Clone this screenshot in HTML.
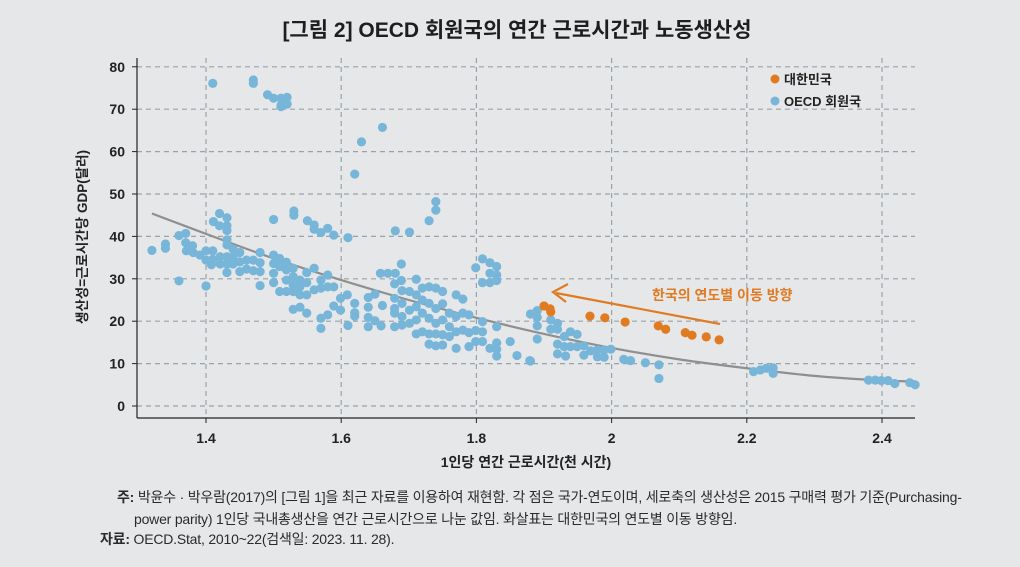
<!DOCTYPE html>
<html><head><meta charset="utf-8">
<style>
body{margin:0;background:#e6e7e9;width:1020px;height:567px;overflow:hidden;font-family:"Liberation Sans","Noto Sans CJK KR",sans-serif;}
svg{display:block}
.note{position:absolute;font-size:14px;color:#2a2a2a;letter-spacing:-0.2px;white-space:nowrap}
</style></head><body>
<svg id="chart" width="1020" height="567" xmlns="http://www.w3.org/2000/svg" font-family="Liberation Sans, Noto Sans CJK KR, sans-serif">
<rect width="1020" height="567" fill="#e6e7e9"/>
<text x="517" y="37" text-anchor="middle" font-size="21" font-weight="bold" fill="#1e1e1e">[그림 2] OECD 회원국의 연간 근로시간과 노동생산성</text>
<g id="grid"></g>
<g id="axes"></g>
<path id="trend" fill="none" stroke="#8f8f8f" stroke-width="2.2"/>
<g id="pts"></g>
<text x="87" y="237" transform="rotate(-90 87 237)" text-anchor="middle" font-size="13.5" font-weight="bold" fill="#222">생산성=근로시간당 GDP(달러)</text>
<text x="526" y="467" text-anchor="middle" font-size="14" font-weight="bold" fill="#222">1인당 연간 근로시간(천 시간)</text>
<g>
<circle cx="775" cy="79" r="4.5" fill="#e07b22"/>
<text x="784" y="84" font-size="13" font-weight="bold" fill="#222">대한민국</text>
<circle cx="775" cy="101" r="4.5" fill="#77b6d8"/>
<text x="784" y="106" font-size="13" font-weight="bold" fill="#222">OECD 회원국</text>
</g>
<g>
<line x1="720" y1="324" x2="556" y2="293" stroke="#e07b22" stroke-width="2.2"/>
<polyline points="568,284 553,292 566,302" fill="none" stroke="#e07b22" stroke-width="2.2"/>
<text x="652" y="300" font-size="14" font-weight="bold" fill="#e07b22">한국의 연도별 이동 방향</text>
</g>
</svg>
<div class="note" style="left:117px;top:487px"><b>주:</b> 박윤수 · 박우람(2017)의 [그림 1]을 최근 자료를 이용하여 재현함. 각 점은 국가-연도이며, 세로축의 생산성은 2015 구매력 평가 기준(Purchasing-</div>
<div class="note" style="left:134px;top:509px">power parity) 1인당 국내총생산을 연간 근로시간으로 나눈 값임. 화살표는 대한민국의 연도별 이동 방향임.</div>
<div class="note" style="left:100px;top:529px"><b>자료:</b> OECD.Stat, 2010~22(검색일: 2023. 11. 28).</div>
<script>
const xTicks=[1.4,1.6,1.8,2.0,2.2,2.4];
const xTickLabels=["1.4","1.6","1.8","2","2.2","2.4"];
const yTicks=[0,10,20,30,40,50,60,70,80];
const koreaX=[1.900,1.909,1.910,1.968,1.990,2.020,2.069,2.080,2.109,2.119,2.140,2.159];
const koreaY=[23.6,22.9,22.2,21.2,20.8,19.8,18.9,18.1,17.3,16.7,16.3,15.6];
const oecdX=[1.320,1.340,1.340,1.360,1.370,1.360,1.370,1.371,1.380,1.381,1.391,1.400,1.400,1.400,1.410,1.410,1.410,1.408,1.411,1.420,1.420,1.431,1.431,1.431,1.431,1.431,1.421,1.421,1.431,1.431,1.431,1.440,1.440,1.440,1.450,1.450,1.450,1.460,1.460,1.470,1.470,1.480,1.480,1.480,1.480,1.470,1.470,1.491,1.500,1.511,1.520,1.511,1.520,1.511,1.500,1.530,1.530,1.500,1.500,1.500,1.500,1.509,1.509,1.509,1.519,1.519,1.519,1.519,1.529,1.529,1.529,1.529,1.529,1.539,1.539,1.539,1.539,1.549,1.549,1.549,1.549,1.550,1.560,1.560,1.570,1.580,1.589,1.610,1.560,1.560,1.570,1.570,1.570,1.570,1.580,1.580,1.580,1.589,1.589,1.599,1.599,1.609,1.610,1.620,1.630,1.661,1.620,1.620,1.620,1.640,1.640,1.640,1.640,1.650,1.650,1.659,1.661,1.658,1.669,1.680,1.689,1.679,1.689,1.680,1.701,1.679,1.679,1.679,1.679,1.690,1.690,1.690,1.690,1.701,1.701,1.701,1.711,1.711,1.711,1.711,1.711,1.720,1.720,1.720,1.720,1.730,1.730,1.730,1.730,1.730,1.740,1.740,1.740,1.740,1.740,1.750,1.750,1.750,1.750,1.750,1.730,1.740,1.740,1.760,1.760,1.760,1.770,1.770,1.770,1.770,1.780,1.780,1.780,1.789,1.789,1.789,1.799,1.799,1.809,1.809,1.809,1.799,1.809,1.809,1.820,1.820,1.820,1.830,1.830,1.830,1.820,1.830,1.830,1.830,1.830,1.850,1.860,1.880,1.880,1.890,1.890,1.890,1.890,1.910,1.910,1.920,1.920,1.920,1.920,1.930,1.930,1.932,1.939,1.939,1.949,1.949,1.959,1.959,1.969,1.979,1.979,1.989,1.989,1.999,2.018,2.028,2.050,2.070,2.070,1.879,2.210,2.220,2.229,2.239,2.239,2.380,2.390,2.399,2.409,2.419,2.441,2.449];
const oecdY=[36.7,38.2,37.2,40.2,40.7,29.5,38.5,36.6,37.8,36.2,35.6,36.6,34.4,28.3,76.1,36.6,34.6,33.3,43.5,45.4,42.5,44.4,42.5,41.4,39.2,38.0,35.2,33.5,35.2,33.5,31.5,37.0,35.2,33.5,36.2,34.0,31.7,34.4,32.3,34.4,31.9,36.2,33.8,31.7,28.4,76.9,76.1,73.4,72.6,72.6,72.8,71.0,71.2,70.6,44.0,46.0,45.0,35.6,33.6,31.3,29.1,34.8,32.9,27.0,33.9,32.1,29.7,27.0,32.5,30.5,28.5,27.0,22.8,29.7,28.1,26.2,23.3,29.1,26.2,21.9,31.5,43.7,42.7,41.7,40.9,41.9,40.3,39.7,32.5,27.4,29.7,27.8,20.7,18.3,30.9,28.1,21.5,28.1,23.6,25.4,22.6,26.2,19.0,54.7,62.3,65.7,24.2,22.0,21.2,25.6,23.3,20.9,18.7,26.4,20.1,18.9,23.7,31.3,31.3,31.3,33.5,28.8,29.6,41.3,41.0,25.4,23.0,21.9,18.7,27.2,24.2,21.1,19.1,27.0,22.6,19.5,29.9,26.2,23.4,20.3,17.0,27.8,25.0,21.9,17.5,28.1,24.2,20.7,17.0,14.6,27.8,23.0,19.5,17.0,14.2,27.0,24.1,20.3,16.8,14.4,43.7,48.2,46.2,21.9,18.7,16.4,26.2,21.1,17.5,13.6,25.2,21.9,17.9,21.5,17.3,14.0,17.8,15.2,19.9,17.5,15.2,32.6,34.7,29.1,33.8,31.3,29.1,32.9,30.9,29.6,13.6,14.9,13.4,11.8,18.7,15.2,11.9,10.6,21.7,22.5,20.9,18.9,15.8,20.3,18.1,19.5,18.1,14.6,12.3,16.4,14.0,11.8,17.5,14.0,16.9,14.0,14.2,12.0,13.0,13.2,11.6,13.2,11.5,13.4,11.0,10.7,10.2,9.7,6.5,10.7,8.1,8.5,8.9,9.0,7.7,6.1,6.1,6.0,6.0,5.3,5.5,5.0];
const trendX=[1.32,1.4,1.5,1.6,1.7,1.8,1.9,2.0,2.1,2.2,2.3,2.4,2.45];
const trendY=[45.4,40.6,34.8,29.7,25.0,20.8,17.0,13.7,11.0,8.9,7.1,6.0,5.8];

const L=137,R=915,T=58,B=418;
const X=v=>206+(v-1.4)*676;
const Y=v=>406-v*4.24;
const NS="http://www.w3.org/2000/svg";
function mk(tag,attrs,parent){const e=document.createElementNS(NS,tag);for(const k in attrs)e.setAttribute(k,attrs[k]);parent.appendChild(e);return e;}
const grid=document.getElementById('grid'),axes=document.getElementById('axes'),pts=document.getElementById('pts');
yTicks.forEach(t=>{
 const g=mk('line',{x1:L,x2:R,y1:Y(t),y2:Y(t),stroke:'#99a2aa','stroke-width':1.2,'stroke-dasharray':'5,4'},grid);
 
 
 const tk=mk('line',{x1:L-5,x2:L,y1:Y(t),y2:Y(t),stroke:'#222','stroke-width':1},axes);
 
 
 const tx=mk('text',{x:L-12,y:Y(t)+5,'text-anchor':'end','font-size':14,'font-weight':'bold',fill:'#222'},axes);
 tx.textContent=t;
 
 
});
xTicks.forEach((t,i)=>{
 const g=mk('line',{x1:X(t),x2:X(t),y1:T,y2:B,stroke:'#99a2aa','stroke-width':1.2,'stroke-dasharray':'5,4'},grid);
 
 
 const tk=mk('line',{x1:X(t),x2:X(t),y1:B,y2:B+5,stroke:'#222','stroke-width':1},axes);
 
 
 const tx=mk('text',{x:X(t),y:B+25,'text-anchor':'middle','font-size':14,'font-weight':'bold',fill:'#222'},axes);
 tx.textContent=xTickLabels[i];
 
 
});
const ya=mk('line',{x1:L,x2:L,y1:T,y2:B,stroke:'#222','stroke-width':1.2},axes);


const xa=mk('line',{x1:L,x2:R,y1:B,y2:B,stroke:'#222','stroke-width':1.2},axes);


const P=trendX.map((x,i)=>[X(x),Y(trendY[i])]);
let d='M'+P[0][0]+','+P[0][1];
for(let i=0;i<P.length-1;i++){const p0=P[i-1]||P[i],p1=P[i],p2=P[i+1],p3=P[i+2]||p2;
 d+=` C${p1[0]+(p2[0]-p0[0])/6},${p1[1]+(p2[1]-p0[1])/6} ${p2[0]-(p3[0]-p1[0])/6},${p2[1]-(p3[1]-p1[1])/6} ${p2[0]},${p2[1]}`;}
document.getElementById('trend').setAttribute('d',d);
oecdX.forEach((x,i)=>{
 const c=mk('circle',{cx:X(x),cy:Y(oecdY[i]),r:4.6,fill:'#77b6d8'},pts);
 
 
});
koreaX.forEach((x,i)=>{
 const c=mk('circle',{cx:X(x),cy:Y(koreaY[i]),r:4.6,fill:'#e07b22'},pts);
 
 
});
</script>
</body></html>
